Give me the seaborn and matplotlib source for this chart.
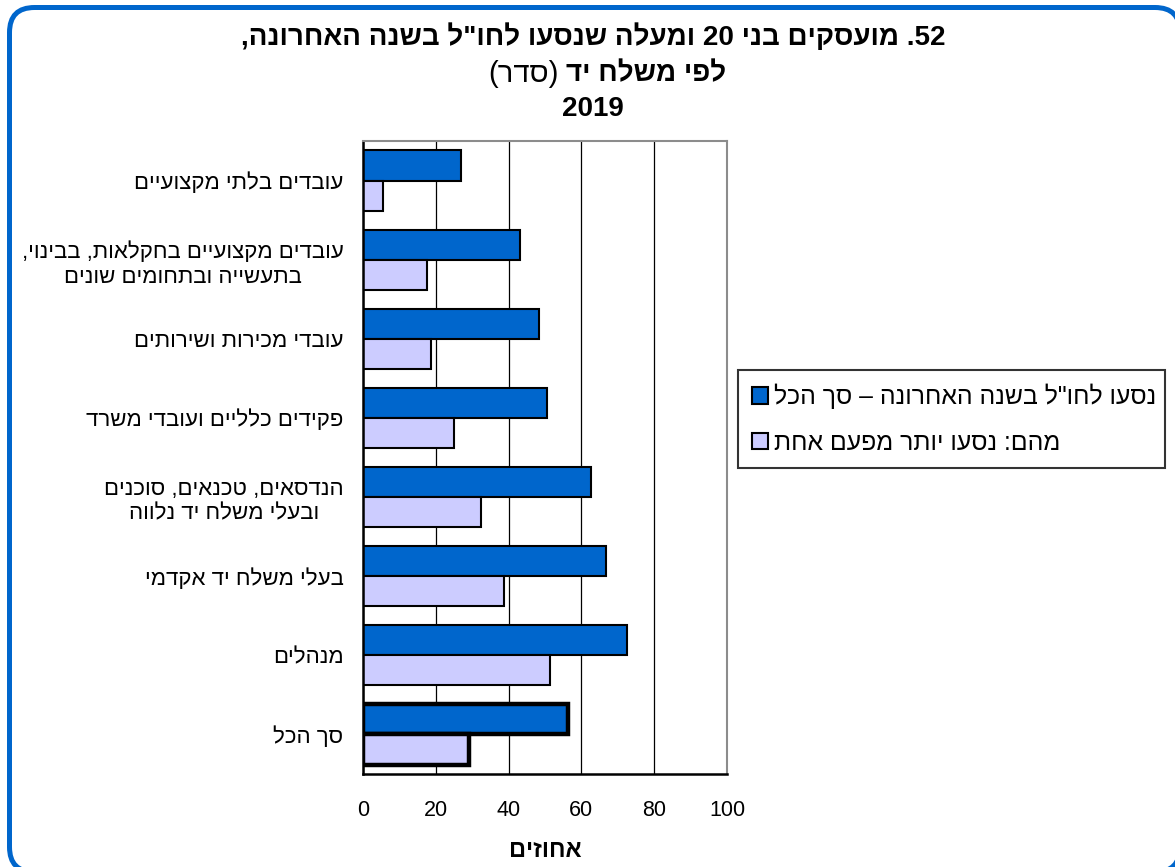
import re
import pandas as pd
import seaborn as sns
import matplotlib.pyplot as plt
from matplotlib.patches import Patch, FancyBboxPatch

# --- Data ---
categories = [
    "עובדים בלתי מקצועיים",
    "עובדים מקצועיים בחקלאות, בבינוי,\nבתעשייה ובתחומים שונים",
    "עובדי מכירות ושירותים",
    "פקידים כלליים ועובדי משרד",
    "הנדסאים, טכנאים, סוכנים\nובעלי משלח יד נלווה",
    "בעלי משלח יד אקדמי",
    "מנהלים",
    "סך הכל",
]
travelled_total = [26.8, 43.2, 48.3, 50.6, 62.6, 66.7, 72.6, 56.2]
travelled_more = [5.5, 17.6, 18.6, 25.1, 32.3, 38.7, 51.5, 29.2]
series_names = ["נסעו לחו\"ל בשנה האחרונה – סך הכל", "מהם: נסעו יותר מפעם אחת"]
x_ticks = [0, 20, 40, 60, 80, 100]

DARK = "#0066CC"
LIGHT = "#CCCCFF"


def rtl(s):
    # matplotlib has no bidi: flip hebrew, keep digit runs, mirror brackets
    out = []
    for line in s.split("\n"):
        r = line[::-1]
        r = re.sub(r"[0-9]+", lambda m: m.group(0)[::-1], r)
        r = r.translate(str.maketrans("()", ")("))
        out.append(r)
    return "\n".join(out)


cat_v = [rtl(c) for c in categories]
ser_v = [rtl(s) for s in series_names]

df = pd.DataFrame({
    "cat": cat_v * 2,
    "series": [ser_v[0]] * len(cat_v) + [ser_v[1]] * len(cat_v),
    "val": travelled_total + travelled_more,
})

sns.set_style("white")
plt.rcParams["font.family"] = ["Liberation Sans", "DejaVu Sans"]
plt.rcParams.update({"text.color": "black", "axes.labelcolor": "black",
                     "xtick.color": "black", "ytick.color": "black"})

fig = plt.figure(figsize=(11.75, 8.67), dpi=100)

# overlay axes in pixel units for the rounded frame
# (filled face so Agg does not clip the curved corners off-canvas)
bg = fig.add_axes([0, 0, 1, 1], zorder=-1)
bg.set_xlim(0, 1175)
bg.set_ylim(0, 867)
bg.axis("off")
bg.add_patch(FancyBboxPatch((9.5, -5), 1170.5, 864.5,
                            boxstyle="round,pad=0,rounding_size=25",
                            facecolor="white", edgecolor=DARK, linewidth=3.6,
                            clip_on=False))

ax = fig.add_axes([363 / 1175, 1 - 774 / 867, 364 / 1175, 633 / 867])

sns.barplot(data=df, y="cat", x="val", hue="series", orient="h",
            palette=[DARK, LIGHT], saturation=1, width=0.76, edgecolor="black",
            linewidth=1.5, ax=ax, legend=False)

# thicker outline for the total row
for cont in ax.containers:
    cont[-1].set_linewidth(3.2)

ax.set_xlim(0, 100)
ax.set_ylim(len(cat_v) - 0.5, -0.5)
ax.set_xticks(x_ticks)
ax.set_xticklabels([str(t) for t in x_ticks], fontsize=15.5)
ax.tick_params(axis="x", direction="inout", length=8, width=1.5, pad=15, colors="black")
ax.set_yticks(range(len(cat_v)))
ax.set_yticklabels(cat_v, fontsize=16)
for lab in ax.get_yticklabels():
    lab.set_multialignment("center")
    lab.set_linespacing(1.25)
ax.set_yticks([i - 0.5 for i in range(len(cat_v) + 1)], minor=True)
ax.tick_params(axis="y", which="major", length=0, pad=14)
ax.tick_params(axis="y", which="minor", direction="out", length=4, width=1.5, color="black")

ax.set_axisbelow(True)
ax.xaxis.grid(True, color="black", linewidth=0.9)
ax.yaxis.grid(False)
ax.set_xlabel(rtl("אחוזים"), fontsize=17, fontweight="bold", labelpad=13)
ax.set_ylabel("")

for side in ["left", "bottom"]:
    ax.spines[side].set_color("black")
    ax.spines[side].set_linewidth(1.8)
for side in ["top", "right"]:
    ax.spines[side].set_color("#8c8c8c")
    ax.spines[side].set_linewidth(1.5)

# --- Legend ---
handles = [Patch(facecolor=DARK, edgecolor="black", linewidth=1.5),
           Patch(facecolor=LIGHT, edgecolor="black", linewidth=1.5)]
leg = fig.legend(handles, ser_v, loc="upper left",
                 bbox_to_anchor=(738 / 1175, 1 - 370 / 867, 427 / 1175, 0),
                 mode="expand", fontsize=17.8, frameon=True, fancybox=False,
                 handlelength=0.66, handleheight=0.66, handletextpad=0.25,
                 labelspacing=0.88, borderpad=0.55, borderaxespad=0)
leg.get_frame().set_edgecolor("black")
leg.get_frame().set_linewidth(1.5)

# --- Titles ---
fig.text(593 / 1175, 1 - 37 / 867, rtl("52. מועסקים בני 20 ומעלה שנסעו לחו\"ל בשנה האחרונה,"),
         ha="center", va="center", fontsize=20, fontweight="bold")
fig.text(559 / 1175, 1 - 74 / 867, rtl("(סדר)"), ha="right", va="center", fontsize=21)
fig.text(566 / 1175, 1 - 74 / 867, rtl("לפי משלח יד"), ha="left", va="center",
         fontsize=20, fontweight="bold")
fig.text(593 / 1175, 1 - 109 / 867, "2019", ha="center", va="center",
         fontsize=20, fontweight="bold")

plt.savefig("out.png", dpi=100)
plt.close()
